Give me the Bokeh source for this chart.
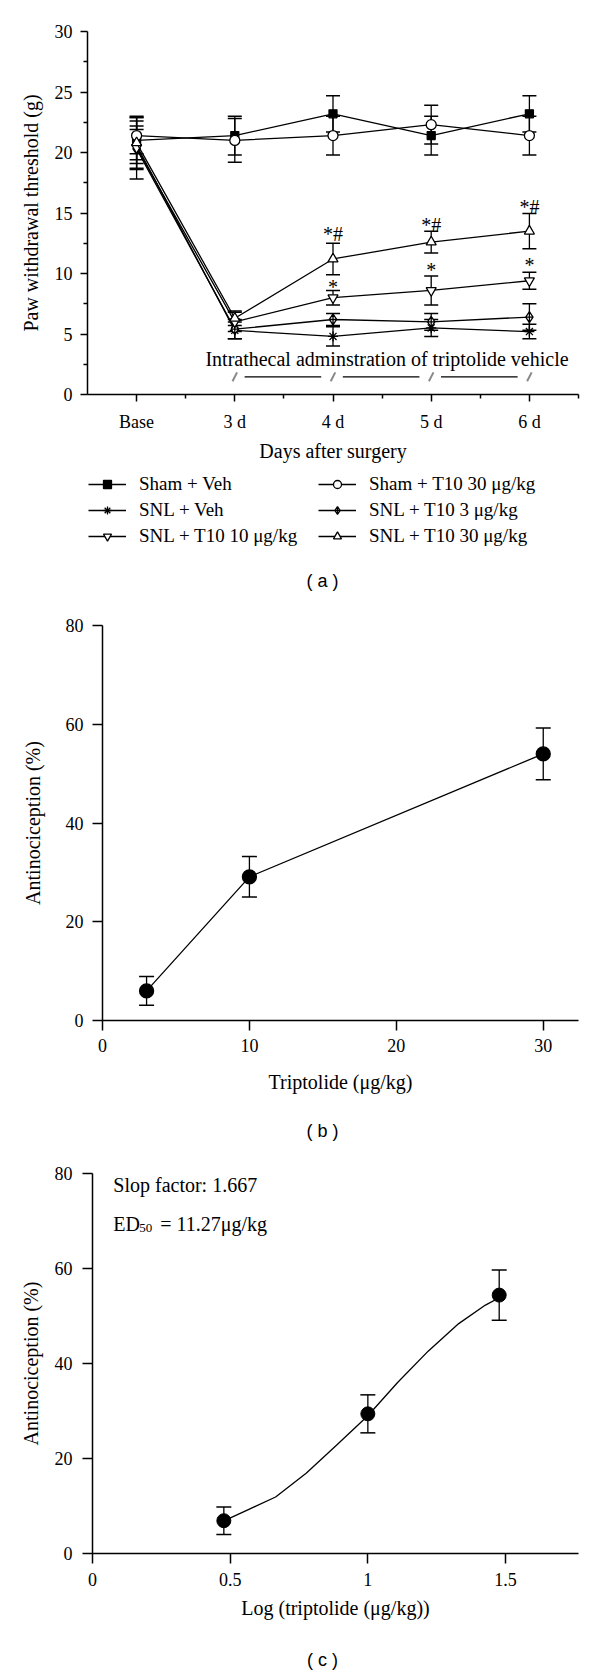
from bokeh.plotting import figure
from bokeh.models import (Range1d, FixedTicker, Whisker, TeeHead, ColumnDataSource,
                          Legend, LegendItem, Label)
from bokeh.embed import file_html
from bokeh.resources import INLINE
from bokeh.core.properties import value

SERIF = "Liberation Serif"
SANS = "Liberation Sans"
W = 600
RIGHT = 22

# ---------------- Panel (a) data ----------------
day_pos = [0, 1, 2, 3, 4]
day_labels = ["Base", "3 d", "4 d", "5 d", "6 d"]
day_minor = [0.5, 1.5, 2.5, 3.5, 4.5]
a_yticks = [0, 5, 10, 15, 20, 25, 30]
a_yminor = [2.5, 7.5, 12.5, 17.5, 22.5, 27.5]

sham_veh = [21.0, 21.4, 23.2, 21.4, 23.2]
sham_veh_err = [1.9, 1.6, 1.5, 1.6, 1.5]
sham_t10_30 = [21.4, 21.0, 21.4, 22.3, 21.4]
sham_t10_30_err = [1.5, 1.8, 1.6, 1.6, 1.6]
snl_veh = [20.6, 5.3, 4.8, 5.5, 5.2]
snl_veh_err = [2.0, 0.7, 0.8, 0.7, 0.6]
snl_t10_3 = [20.3, 5.4, 6.2, 6.0, 6.4]
snl_t10_3_err = [1.6, 0.8, 0.5, 0.7, 1.1]
snl_t10_10 = [20.4, 6.0, 8.0, 8.6, 9.4]
snl_t10_10_err = [2.6, 0.8, 0.6, 1.2, 0.7]
snl_t10_30 = [20.8, 6.3, 11.2, 12.6, 13.5]
snl_t10_30_err = [1.4, 0.6, 1.3, 0.9, 1.45]

legend_left = ["Sham + Veh", "SNL + Veh", "SNL + T10 10 μg/kg"]
legend_right = ["Sham + T10 30 μg/kg", "SNL + T10 3 μg/kg", "SNL + T10 30 μg/kg"]

sig_days = [2, 3, 4]
sig_hash_y = [13.6, 14.3, 15.8]
sig_star_y = [9.2, 10.6, 11.0]
admin_days = [1, 2, 3, 4]
admin_y = 1.46
admin_text = "Intrathecal adminstration of triptolide vehicle"

# ---------------- Panel (b) data ----------------
dose = [3, 10, 30]
anti_b = [6.0, 29.1, 54.0]
anti_b_err = [2.9, 4.1, 5.25]
b_xticks = [0, 10, 20, 30]
b_yticks = [0, 20, 40, 60, 80]

# ---------------- Panel (c) data ----------------
log_dose = [0.477, 1.0, 1.477]
anti_c = [6.9, 29.4, 54.4]
anti_c_err = [2.9, 4.0, 5.3]
fit_x = [0.475, 0.568, 0.665, 0.776, 0.886, 1.0, 1.108, 1.219, 1.33, 1.427, 1.489]
fit_y = [6.8, 9.3, 11.9, 16.9, 22.8, 29.0, 36.0, 42.6, 48.4, 52.3, 54.2]
c_xticks = [0, 0.5, 1, 1.5]
c_xtick_labels = ["0", "0.5", "1", "1.5"]
c_yticks = [0, 20, 40, 60, 80]


def style(p, tick_out, minor_out, ylab_standoff, xlab_standoff, xstand, ystand):
    p.xgrid.visible = False
    p.ygrid.visible = False
    p.outline_line_color = None
    p.background_fill_color = "white"
    p.border_fill_color = "white"
    for ax in (p.xaxis[0], p.yaxis[0]):
        ax.axis_line_width = 1.5
        ax.axis_line_color = "black"
        ax.major_tick_line_width = 1.5
        ax.minor_tick_line_width = 1.5
        ax.major_tick_line_color = "black"
        ax.minor_tick_line_color = "black"
        ax.major_tick_out = tick_out
        ax.major_tick_in = 0
        ax.minor_tick_out = minor_out
        ax.minor_tick_in = 0
        ax.major_label_text_font = SERIF
        ax.major_label_text_font_size = "18px"
        ax.major_label_text_color = "black"
        ax.axis_label_text_font = SERIF
        ax.axis_label_text_font_size = "20px"
        ax.axis_label_text_font_style = "normal"
        ax.axis_label_text_color = "black"
    p.yaxis[0].axis_label_standoff = ylab_standoff
    p.xaxis[0].axis_label_standoff = xlab_standoff
    p.xaxis[0].major_label_standoff = xstand
    p.yaxis[0].major_label_standoff = ystand


def blank(height):
    q = figure(width=W, height=height, x_range=Range1d(0, 1), y_range=Range1d(0, 1),
               toolbar_location=None, output_backend="svg",
               min_border_left=87, min_border_right=RIGHT,
               min_border_top=0, min_border_bottom=0,
               x_axis_location=None, y_axis_location=None)
    q.xgrid.visible = False
    q.ygrid.visible = False
    q.outline_line_color = None
    return q


def caption(q, text, x, y):
    q.add_layout(Label(x=x, y=y, x_units="screen", y_units="screen", text=text,
                       text_font=SANS, text_font_size="18px", text_align="center",
                       text_baseline="middle", text_color="black"))


def whisk(p, src, head):
    w = Whisker(source=src, base="x", upper="upper", lower="lower",
                line_color="black", line_width=1.3, level="underlay")
    w.upper_head = TeeHead(size=head, line_color="black", line_width=1.5)
    w.lower_head = TeeHead(size=head, line_color="black", line_width=1.5)
    p.add_layout(w)


def series(p, x, y, err, marker, fill, size, head=14):
    src = ColumnDataSource(dict(x=x, y=y,
                                upper=[a + e for a, e in zip(y, err)],
                                lower=[a - e for a, e in zip(y, err)]))
    whisk(p, src, head)
    p.line("x", "y", source=src, line_color="black", line_width=1.3)
    p.scatter("x", "y", source=src, marker=marker, size=size,
              fill_color=fill, line_color="black", line_width=1.3)


# ================= Figure (a) =================
pa = figure(width=W, height=466, x_range=Range1d(-0.5, 4.5), y_range=Range1d(0, 30),
            toolbar_location=None, output_backend="svg",
            min_border_left=87, min_border_right=RIGHT, min_border_top=31,
            min_border_bottom=72)
style(pa, 7, 4, 10, 5, 10, 8)
pa.xaxis[0].ticker = FixedTicker(ticks=day_pos, minor_ticks=day_minor)
pa.xaxis[0].major_label_overrides = {d: l for d, l in zip(day_pos, day_labels)}
pa.yaxis[0].ticker = FixedTicker(ticks=a_yticks, minor_ticks=a_yminor)
pa.xaxis[0].axis_label = "Days after surgery"
pa.yaxis[0].axis_label = "Paw withdrawal threshold (g)"

series_specs = [
    (sham_veh, sham_veh_err, "square", "black", 8),
    (sham_t10_30, sham_t10_30_err, "circle", "white", 10),
    (snl_veh, snl_veh_err, "asterisk", "white", 10),
    (snl_t10_3, snl_t10_3_err, "diamond_cross", "white", 11),
    (snl_t10_10, snl_t10_10_err, "inverted_triangle", "white", 10),
    (snl_t10_30, snl_t10_30_err, "triangle", "white", 10),
]
for vals, errs, mk, fc, sz in series_specs:
    series(pa, day_pos, vals, errs, mk, fc, sz)

pa.text(x=sig_days, y=sig_hash_y, text=["*#"] * len(sig_days), text_font=value(SERIF),
        text_font_size="20px", text_align="center", text_baseline="middle", y_offset=4)
pa.text(x=sig_days, y=sig_star_y, text=["*"] * len(sig_days), text_font=value(SERIF),
        text_font_size="20px", text_align="center", text_baseline="middle", y_offset=4)
pa.text(x=[2.55], y=[2.97], text=[admin_text], text_font=value(SERIF),
        text_font_size="20px", text_align="center", text_baseline="middle")
pa.segment(x0=[d + 0.1 for d in admin_days[:-1]], y0=[admin_y] * 3,
           x1=[d + 0.88 for d in admin_days[:-1]], y1=[admin_y] * 3,
           line_color="black", line_width=1.3)
pa.scatter(x=admin_days, y=[admin_y] * len(admin_days), marker="dash", size=10,
           angle=1.1, line_color="#888888", line_width=2)

# ================= Legend + caption (a) =================
# The legend figure re-draws the series (outside its visible window) so that
# the legend entries have real renderers to sample their line/marker style from.
pl = blank(134)
leg_style = dict(border_line_color=None, background_fill_alpha=0, padding=0, margin=0,
                 spacing=4, glyph_width=38, glyph_height=20, label_height=20,
                 label_standoff=13, label_text_font=SERIF, label_text_font_size="19px",
                 label_text_color="black", label_text_baseline="middle")


def legend_items(names, specs):
    items = []
    for name, (vals, errs, mk, fc, sz) in zip(names, specs):
        lr = pl.line(x=day_pos, y=vals, line_color="black", line_width=1.3)
        sr = pl.scatter(x=day_pos, y=vals, marker=mk, fill_color=fc, line_color="black",
                        line_width=1.3)
        items.append(LegendItem(label=name, renderers=[lr, sr]))
    return items


left_specs = [series_specs[0], series_specs[2], series_specs[4]]
right_specs = [series_specs[1], series_specs[3], series_specs[5]]
pl.add_layout(Legend(items=legend_items(legend_left, left_specs), location=(1, 53),
                     **leg_style))
pl.add_layout(Legend(items=legend_items(legend_right, right_specs), location=(231, 53),
                     **leg_style))
caption(pl, "( a )", 235, 20)

# ================= Figure (b) =================
pb = figure(width=W, height=505, x_range=Range1d(0, 32.4), y_range=Range1d(0, 80),
            toolbar_location=None, output_backend="svg",
            min_border_left=102, min_border_right=RIGHT, min_border_top=25,
            min_border_bottom=85)
style(pb, 10, 0, 19, 16, 8, 9)
pb.xaxis[0].ticker = FixedTicker(ticks=b_xticks, minor_ticks=[])
pb.yaxis[0].ticker = FixedTicker(ticks=b_yticks, minor_ticks=[])
pb.xaxis[0].axis_label = "Triptolide (μg/kg)"
pb.yaxis[0].axis_label = "Antinociception (%)"
series(pb, dose, anti_b, anti_b_err, "circle", "black", 14, head=15)

cb = blank(45)
caption(cb, "( b )", 235, 20)

# ================= Figure (c) =================
pc = figure(width=W, height=490, x_range=Range1d(0, 1.765), y_range=Range1d(0, 80),
            toolbar_location=None, output_backend="svg",
            min_border_left=92, min_border_right=RIGHT, min_border_top=23,
            min_border_bottom=87)
style(pc, 10, 0, 10, 8, 9, 10)
pc.xaxis[0].ticker = FixedTicker(ticks=c_xticks, minor_ticks=[])
pc.xaxis[0].major_label_overrides = {t: l for t, l in zip(c_xticks, c_xtick_labels)}
pc.yaxis[0].ticker = FixedTicker(ticks=c_yticks, minor_ticks=[])
pc.xaxis[0].axis_label = "Log (triptolide (μg/kg))"
pc.yaxis[0].axis_label = "Antinociception (%)"
src_c = ColumnDataSource(dict(x=log_dose, y=anti_c,
                              upper=[a + e for a, e in zip(anti_c, anti_c_err)],
                              lower=[a - e for a, e in zip(anti_c, anti_c_err)]))
whisk(pc, src_c, 15)
pc.line(fit_x, fit_y, line_color="black", line_width=1.3)
pc.scatter("x", "y", source=src_c, marker="circle", size=14, fill_color="black",
           line_color="black")
pc.text(x=[0.0755], y=[77.6], text=["Slop factor: 1.667"], text_font=value(SERIF),
        text_font_size="20px", text_align="left", text_baseline="middle")
pc.text(x=[0.0755], y=[69.4], text=["ED"], text_font=value(SERIF),
        text_font_size="20px", text_align="left", text_baseline="middle")
pc.text(x=[0.0755], y=[69.4], text=["50"], text_font=value(SERIF),
        text_font_size="13px", text_align="left", text_baseline="middle",
        x_offset=26, y_offset=4)
pc.text(x=[0.0755], y=[69.4], text=["= 11.27μg/kg"], text_font=value(SERIF),
        text_font_size="20px", text_align="left", text_baseline="middle", x_offset=47)

cc = blank(31)
caption(cc, "( c )", 235, 12)

# Separate roots stacked vertically, so that each panel keeps its own frame position.
open("out.html", "w").write(file_html([pa, pl, pb, cb, pc, cc], INLINE))
